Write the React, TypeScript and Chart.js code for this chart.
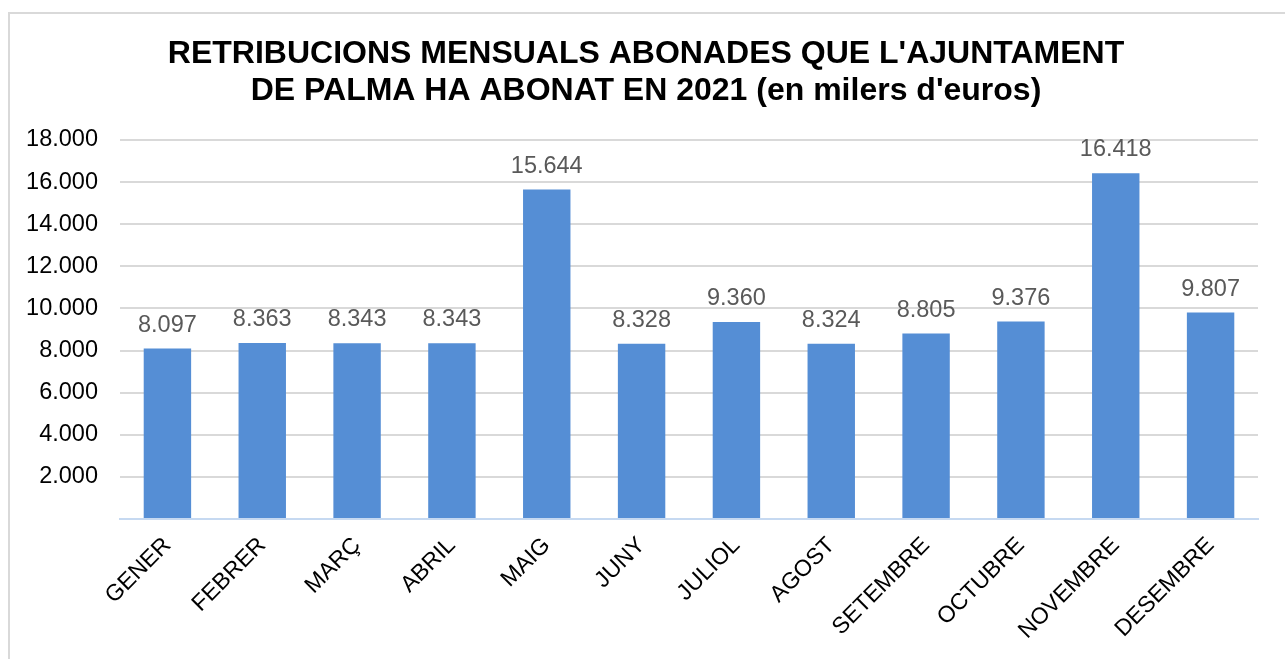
import React, { useEffect, useRef } from "react";
import { Chart, registerables } from "chart.js";

Chart.register(...registerables);

const titleLines = [
  "RETRIBUCIONS MENSUALS ABONADES QUE L'AJUNTAMENT",
  "DE PALMA HA ABONAT EN 2021 (en milers d'euros)",
];
const months = [
  "GENER", "FEBRER", "MARÇ", "ABRIL", "MAIG", "JUNY",
  "JULIOL", "AGOST", "SETEMBRE", "OCTUBRE", "NOVEMBRE", "DESEMBRE",
];
const amounts = [8097, 8363, 8343, 8343, 15644, 8328, 9360, 8324, 8805, 9376, 16418, 9807];
const yMin = 0;
const yMax = 18000;
const yStep = 2000;

const fmt = (v: number) => {
  const s = Math.round(v).toString();
  return s.replace(/\B(?=(\d{3})+(?!\d))/g, ".");
};

const FONT = "'Liberation Sans', Arial, sans-serif";

const frame = {
  id: "frame",
  beforeDraw(chart: any) {
    const ctx = chart.ctx;
    ctx.save();
    ctx.fillStyle = "#ffffff";
    ctx.fillRect(0, 0, chart.width, chart.height);
    ctx.strokeStyle = "#d9d9d9";
    ctx.lineWidth = 2;
    ctx.beginPath();
    ctx.moveTo(9, chart.height + 10);
    ctx.lineTo(9, 13);
    ctx.lineTo(chart.width + 10, 13);
    ctx.stroke();
    ctx.restore();
  },
  afterDraw(chart: any) {
    const ctx = chart.ctx;
    ctx.save();
    ctx.font = `bold 32px ${FONT}`;
    ctx.fillStyle = "#000000";
    ctx.textAlign = "center";
    ctx.textBaseline = "alphabetic";
    ctx.fillText(titleLines[0], 646, 63);
    ctx.fillText(titleLines[1], 646, 100);
    ctx.restore();
  },
};

const valueLabels = {
  id: "valueLabels",
  afterDatasetsDraw(chart: any) {
    const ctx = chart.ctx;
    const meta = chart.getDatasetMeta(0);
    ctx.save();
    ctx.font = `23.5px ${FONT}`;
    ctx.fillStyle = "#595959";
    ctx.textAlign = "center";
    ctx.textBaseline = "alphabetic";
    meta.data.forEach((bar: any, i: number) => {
      ctx.fillText(fmt(amounts[i]), bar.x, bar.y - 17);
    });
    ctx.restore();
  },
};

export default function App() {
  const ref = useRef<HTMLCanvasElement>(null);
  useEffect(() => {
    document.body.style.margin = "0";
    const chart = new Chart(ref.current!, {
      type: "bar",
      data: {
        labels: months,
        datasets: [
          {
            data: amounts,
            backgroundColor: "#558ed5",
            borderWidth: 0,
            categoryPercentage: 1,
            barPercentage: 0.5,
          },
        ],
      },
      options: {
        animation: false,
        responsive: false,
        layout: { padding: { left: 0, right: 27, top: 140, bottom: 0 } },
        plugins: {
          legend: { display: false },
          tooltip: { enabled: false },
          title: { display: false },
        },
        scales: {
          x: {
            grid: { display: false, drawTicks: false },
            border: { color: "#c6d9f1", width: 2 },
            ticks: {
              color: "#000000",
              font: { family: FONT, size: 23 },
              maxRotation: 45,
              minRotation: 45,
              padding: 13,
            },
            afterFit(scale: any) {
              scale.height = 140;
            },
          },
          y: {
            min: yMin,
            max: yMax,
            grid: { color: "#d9d9d9", lineWidth: 2, drawTicks: false },
            border: { display: false },
            ticks: {
              stepSize: yStep,
              color: "#000000",
              font: { family: FONT, size: 23.5 },
              padding: 22,
              callback: (v: any) => (Number(v) === 0 ? "" : fmt(Number(v))),
            },
            afterFit(scale: any) {
              scale.width = 120;
            },
          },
        },
      },
      plugins: [frame, valueLabels],
    });
    return () => chart.destroy();
  }, []);
  return <canvas ref={ref} width={1285} height={659} style={{ display: "block" }} />;
}
